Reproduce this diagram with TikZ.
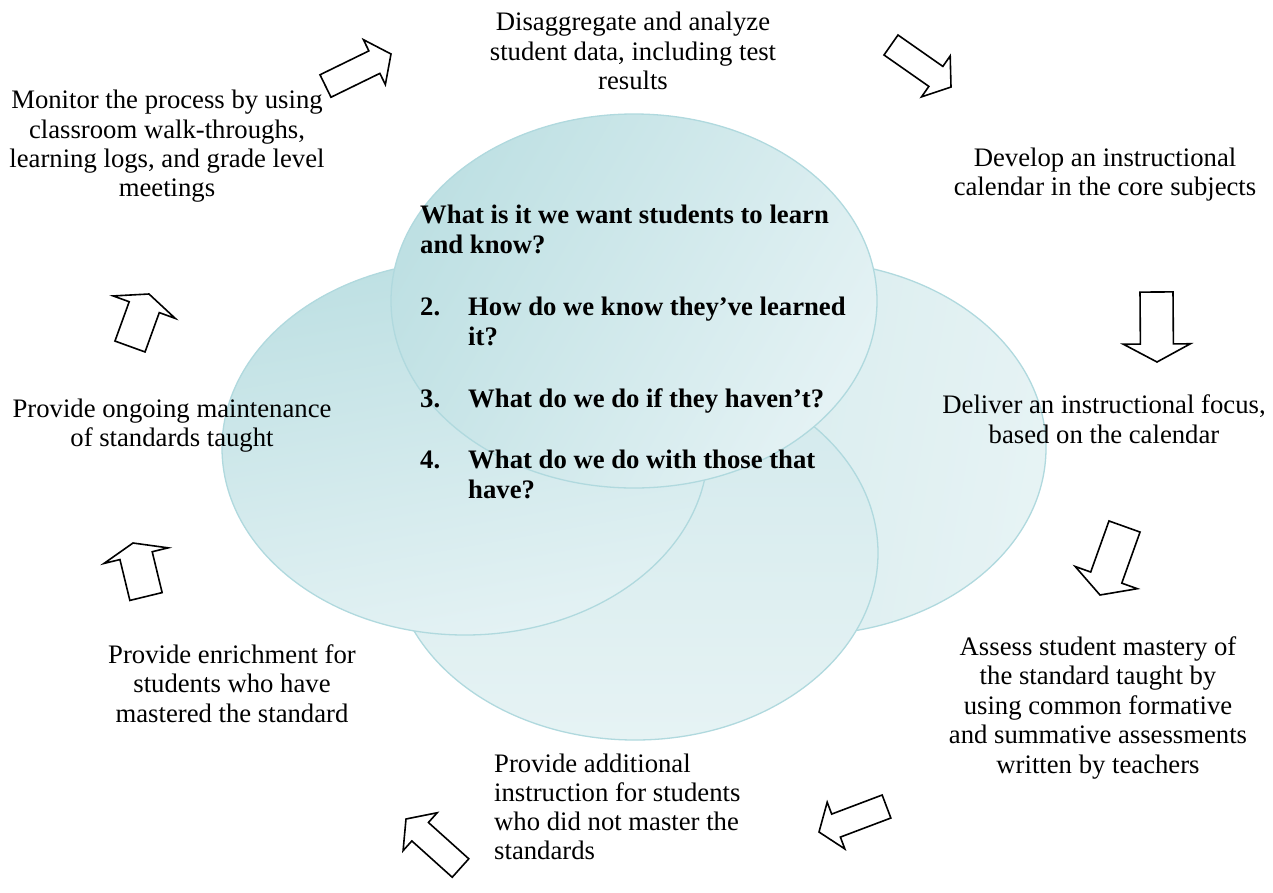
\documentclass[tikz,border=0pt]{standalone}
\usepackage{fontspec}
\setmainfont{Liberation Serif}
\usetikzlibrary{calc,shapes.geometric}
\definecolor{edgeteal}{HTML}{B0D9DE}
\definecolor{tealA}{HTML}{BEE0E3}
\definecolor{tealB}{HTML}{E4F2F4}
\definecolor{tealC}{HTML}{D2E9EC}
\definecolor{tealD}{HTML}{E6F3F4}
\tikzset{
  txt/.style={inner sep=0pt, anchor=base, font=\fontsize{26.7}{30}\selectfont},
  btxt/.style={inner sep=0pt, anchor=base west, font=\fontsize{26.7}{30}\selectfont\bfseries},
  bubble/.style={ellipse, minimum width=486pt, minimum height=374pt, inner sep=0pt, draw=edgeteal, line width=1.3pt},
  blockarr/.style={draw=black, fill=white, line width=1.6pt, line join=miter},
}
\newcommand\blockarrow[5]{%
  \coordinate (baT) at #1; \coordinate (baP) at #2;
  \coordinate (baB) at ($(baP)!#5!(baT)$);
  \draw[blockarr] ($(baT)!#3!90:(baP)$) -- ($(baB)!#3!90:(baP)$) -- ($(baB)!#4!90:(baP)$) -- (baP)
     -- ($(baB)!#4!-90:(baP)$) -- ($(baB)!#3!-90:(baP)$) -- ($(baT)!#3!-90:(baP)$) -- cycle;
}
\begin{document}
\begin{tikzpicture}[x=1pt,y=-1pt]
\useasboundingbox (0,0) rectangle (1273,892);
\fill[white] (0,0) rectangle (1273,892);
% bubbles (back to front)
\node[bubble, top color=tealC, bottom color=tealD, shading angle=80] (eR) at (803,448) {};
\node[bubble, top color=tealC, bottom color=tealD, shading angle=0] (eB) at (635,553) {};
\node[bubble, top color=tealA, bottom color=tealB, shading angle=10] (eL) at (465,448) {};
\node[bubble, top color=tealA, bottom color=tealB, shading angle=60] (eT) at (634,301) {};
% central questions
\node[btxt] (q1a) at (420,223) {What is it we want students to learn};
\node[btxt] (q1b) at (420,253) {and know?};
\node[btxt] (q2n) at (420,315) {2.};
\node[btxt] (q2a) at (468,315) {How do we know they’ve learned};
\node[btxt] (q2b) at (468,345) {it?};
\node[btxt] (q3n) at (420,407) {3.};
\node[btxt] (q3a) at (468,407) {What do we do if they haven’t?};
\node[btxt] (q4n) at (420,468) {4.};
\node[btxt] (q4a) at (468,468) {What do we do with those that};
\node[btxt] (q4b) at (468,498) {have?};
% outer texts
\node[txt] (t1a) at (633,30) {Disaggregate and analyze};
\node[txt] (t1b) at (633,60) {student data, including test};
\node[txt] (t1c) at (633,89) {results};
\node[txt] (t2a) at (1105,166) {Develop an instructional};
\node[txt] (t2b) at (1105,195) {calendar in the core subjects};
\node[txt] (t3a) at (1104,413) {Deliver an instructional focus,};
\node[txt] (t3b) at (1104,443) {based on the calendar};
\node[txt] (t4a) at (1098,655) {Assess student mastery of};
\node[txt] (t4b) at (1098,684) {the standard taught by};
\node[txt] (t4c) at (1098,714) {using common formative};
\node[txt] (t4d) at (1098,743) {and summative assessments};
\node[txt] (t4e) at (1098,773) {written by teachers};
\node[txt, anchor=base west] (t5a) at (494,772) {Provide additional};
\node[txt, anchor=base west] (t5b) at (494,801) {instruction for students};
\node[txt, anchor=base west] (t5c) at (494,830) {who did not master the};
\node[txt, anchor=base west] (t5d) at (494,859) {standards};
\node[txt] (t6a) at (232,663) {Provide enrichment for};
\node[txt] (t6b) at (232,692) {students who have};
\node[txt] (t6c) at (232,722) {mastered the standard};
\node[txt] (t7a) at (172,417) {Provide ongoing maintenance};
\node[txt] (t7b) at (172,446) {of standards taught};
\node[txt] (t8a) at (167,108) {Monitor the process by using};
\node[txt] (t8b) at (167,138) {classroom walk-throughs,};
\node[txt] (t8c) at (167,167) {learning logs, and grade level};
\node[txt] (t8d) at (167,196) {meetings};
% block arrows
\blockarrow{(325.5,86)}{(391,54)}{12.5pt}{25pt}{18.5pt}
\blockarrow{(891,45)}{(951,87)}{12.2pt}{25pt}{18.5pt}
\blockarrow{(1156.5,292)}{(1157,362)}{16.5pt}{33.5pt}{18pt}
\blockarrow{(1124.5,526.5)}{(1100,595)}{16.5pt}{33pt}{18.5pt}
\blockarrow{(886.5,806.5)}{(819,832)}{12.3pt}{25pt}{18.2pt}
\blockarrow{(460.5,868)}{(406,819)}{12.4pt}{25.5pt}{19pt}
\blockarrow{(146,596.5)}{(133,543)}{16.6pt}{33pt}{13pt}
\blockarrow{(130,346.5)}{(149,294)}{16pt}{33pt}{14pt}
\end{tikzpicture}
\end{document}
